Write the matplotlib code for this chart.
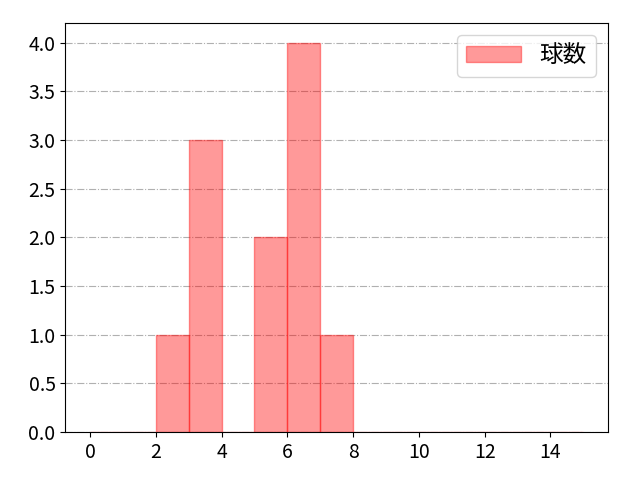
import matplotlib.pyplot as plt
import numpy as np

plt.rcParams['font.family'] = ['Noto Sans CJK JP', 'DejaVu Sans']

# 球数ごとの値（ヒストグラム用の生データ）
pitch_counts = [2, 3, 3, 3, 5, 5, 6, 6, 6, 6, 7]
bins = np.arange(0, 16)
label = '球数'

fig, ax = plt.subplots(figsize=(6.4, 4.8), dpi=100)
ax.hist(pitch_counts, bins=bins, color='red', alpha=0.4, edgecolor='red', label=label)
ax.grid(axis='y', linestyle='-.', color='#b0b0b0')
ax.set_axisbelow(True)
ax.set_xticks(range(0, 16, 2))
ax.legend(loc='upper right', fontsize=17, handlelength=2.3, borderaxespad=0.5)
ax.tick_params(labelsize=14)
plt.subplots_adjust(left=0.102, right=0.95, top=0.952, bottom=0.1)
plt.savefig('out.png')
